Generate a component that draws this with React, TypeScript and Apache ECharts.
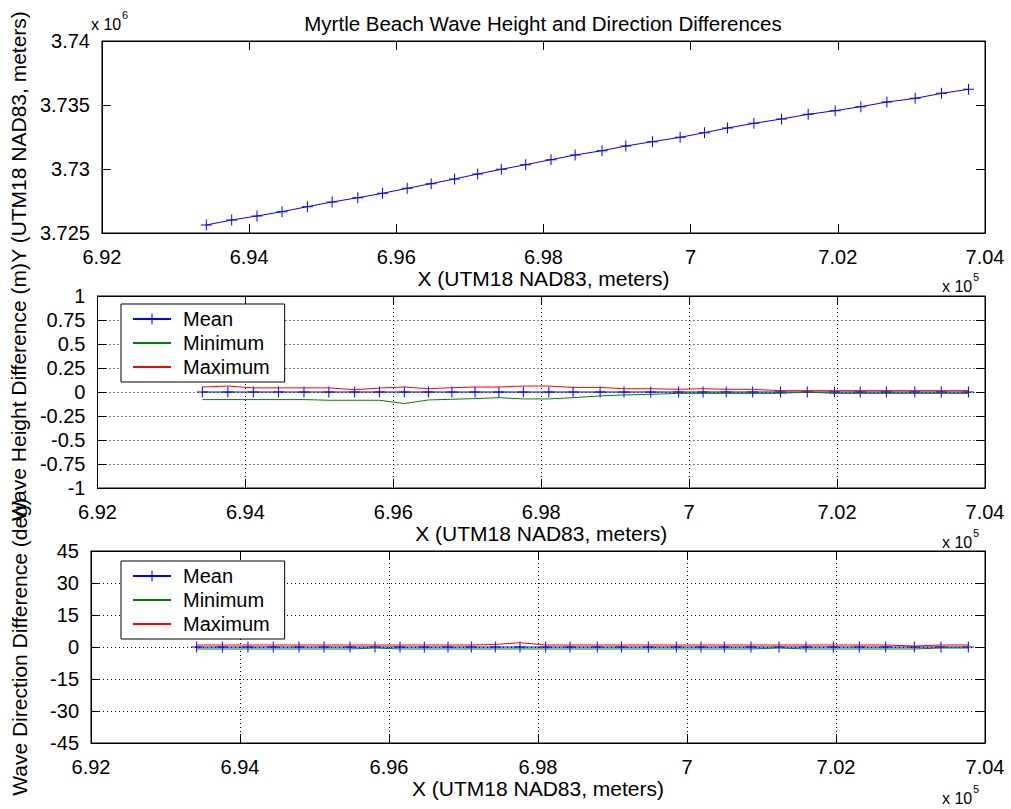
import React, { useEffect, useRef } from "react";
import * as echarts from "echarts";

const titleText = "Myrtle Beach Wave Height and Direction Differences";
const xLabel = "X (UTM18 NAD83, meters)";
const yLabelTop = "Y (UTM18 NAD83, meters)";
const yLabelMid = "Wave Height Difference (m)";
const yLabelBot = "Wave Direction Difference (deg)";
const legendNames = ["Mean", "Minimum", "Maximum"];

const xTickLabels = ["6.92", "6.94", "6.96", "6.98", "7", "7.02", "7.04"];
const yTopTickLabels = ["3.725", "3.73", "3.735", "3.74"];
const yMidTickLabels = ["-1", "-0.75", "-0.5", "-0.25", "0", "0.25", "0.5", "0.75", "1"];
const yBotTickLabels = ["-45", "-30", "-15", "0", "15", "30", "45"];

// positions along shoreline (meters)
const xPos = [693418, 693763, 694107, 694447, 694792, 695128, 695477, 695812, 696148, 696474, 696792, 697105, 697427, 697758, 698103, 698430, 698796, 699119, 699481, 699857, 700188, 700501, 700859, 701235, 701597, 701964, 702313, 702667, 703051, 703409, 703776];
const yPos = [3725625, 3726016, 3726328, 3726667, 3727057, 3727422, 3727760, 3728099, 3728490, 3728854, 3729219, 3729609, 3729974, 3730339, 3730729, 3731094, 3731432, 3731797, 3732135, 3732474, 3732839, 3733203, 3733568, 3733906, 3734271, 3734557, 3734870, 3735234, 3735521, 3735911, 3736224];

// wave height differences (m)
const heightMean = [0, 0, 0, 0, 0, 0, 0, 0, 0, 0, 0, 0, 0, 0, 0, 0, 0, 0, 0, 0, 0, 0, 0, 0, 0, 0, 0, 0, 0, 0, 0];
const heightMin = [-0.079, -0.079, -0.079, -0.079, -0.079, -0.086, -0.086, -0.086, -0.12, -0.083, -0.076, -0.069, -0.059, -0.072, -0.072, -0.059, -0.041, -0.031, -0.024, -0.014, -0.014, -0.014, -0.014, -0.014, 0, -0.014, -0.014, -0.014, -0.014, -0.014, -0.014];
const heightMax = [0.052, 0.062, 0.043, 0.043, 0.043, 0.043, 0.024, 0.041, 0.052, 0.034, 0.045, 0.052, 0.052, 0.062, 0.062, 0.048, 0.048, 0.034, 0.034, 0.028, 0.034, 0.028, 0.028, 0.014, 0.014, 0.014, 0.014, 0.014, 0.014, 0.014, 0.014];

// wave direction differences (deg)
const dirMean = [0, 0, 0, 0, 0, 0, 0, 0, 0, 0, 0, 0, 0, 0, 0, 0, 0, 0, 0, 0, 0, 0, 0, 0, 0, 0, 0, 0, 0, 0, 0];
const dirMin = [-0.93, -0.93, -0.93, -0.93, -0.93, -0.93, -0.93, -0.47, -0.93, -0.93, -0.93, -0.93, -0.93, -0.93, -0.93, -0.93, -0.93, -0.93, -0.93, -0.93, -0.93, -0.93, -0.93, -0.47, -0.93, -0.93, -0.93, -0.93, -0.93, -0.47, -0.47];
const dirMax = [0.93, 0.93, 0.93, 0.93, 0.93, 0.93, 0.93, 0.93, 0.93, 0.93, 0.93, 0.93, 1.2, 2.0, 0.93, 0.93, 0.93, 0.93, 0.93, 0.93, 0.93, 0.93, 0.93, 0.93, 0.93, 0.93, 0.93, 0.93, 0.47, 0.93, 0.93];

const FONT = '"Liberation Sans", Arial, Helvetica, sans-serif';
const PLUS = "path://M5,0 L6,0 L6,5 L11,5 L11,6 L6,6 L6,11 L5,11 L5,6 L0,6 L0,5 L5,5 Z";
const BLUE = "#0000ff";
const GREEN = "#008000";
const RED = "#ff0000";

const X_MIN = 692000, X_MAX = 704000, X_STEP = 2000;

function makeXAxes(gridIndex: number, grid: boolean) {
  const base = {
    type: "value" as const,
    gridIndex,
    min: X_MIN,
    max: X_MAX,
    interval: X_STEP,
  };
  return [
    {
      ...base,
      position: "bottom",
      axisLine: { show: true, onZero: false, lineStyle: { color: "#000", width: 1 } },
      axisTick: { show: true, inside: true, length: 9, lineStyle: { color: "#000" } },
      axisLabel: {
        color: "#000",
        fontSize: 20,
        fontFamily: FONT,
        margin: 14,
        formatter: (v: number) => xTickLabels[Math.round((v - X_MIN) / X_STEP)] ?? "",
      },
      splitLine: { show: grid, lineStyle: { color: "#000", width: 1, type: [1, 3] } },
      name: xLabel,
      nameLocation: "middle",
      nameGap: 32,
      nameTextStyle: { color: "#000", fontSize: 21, fontFamily: FONT },
    },
    {
      ...base,
      position: "top",
      axisLine: { show: true, onZero: false, lineStyle: { color: "#000", width: 1 } },
      axisTick: { show: true, inside: true, length: 9, lineStyle: { color: "#000" } },
      axisLabel: { show: false },
      splitLine: { show: false },
    },
  ];
}

function makeYAxes(gridIndex: number, min: number, max: number, step: number, labels: string[], name: string, grid: boolean) {
  const base = { type: "value" as const, gridIndex, min, max, interval: step };
  return [
    {
      ...base,
      position: "left",
      axisLine: { show: true, onZero: false, lineStyle: { color: "#000", width: 1 } },
      axisTick: { show: true, inside: true, length: 9, lineStyle: { color: "#000" } },
      axisLabel: {
        color: "#000",
        fontSize: 20,
        fontFamily: FONT,
        margin: 12,
        formatter: (v: number) => labels[Math.round((v - min) / step)] ?? "",
      },
      splitLine: { show: grid, lineStyle: { color: "#000", width: 1, type: [1, 3] } },
      name,
      nameLocation: "middle",
      nameGap: 61,
      nameTextStyle: { color: "#000", fontSize: 21, fontFamily: FONT },
    },
    {
      ...base,
      position: "right",
      axisLine: { show: true, onZero: false, lineStyle: { color: "#000", width: 1 } },
      axisTick: { show: true, inside: true, length: 9, lineStyle: { color: "#000" } },
      axisLabel: { show: false },
      splitLine: { show: false },
    },
  ];
}

function pairs(xs: number[], ys: number[]) {
  return xs.map((x, i) => [x, ys[i]]);
}

function diffSeries(axisIndex: number, mean: number[], mn: number[], mx: number[]) {
  return [
    {
      name: "Mean",
      type: "line",
      xAxisIndex: axisIndex,
      yAxisIndex: axisIndex,
      data: pairs(xPos, mean),
      symbol: PLUS,
      symbolSize: 11,
      showAllSymbol: true,
      lineStyle: { color: BLUE, width: 1 },
      itemStyle: { color: BLUE },
      z: 2,
    },
    {
      name: "Minimum",
      type: "line",
      xAxisIndex: axisIndex,
      yAxisIndex: axisIndex,
      data: pairs(xPos, mn),
      symbol: "none",
      lineStyle: { color: GREEN, width: 1 },
      itemStyle: { color: GREEN },
      z: 3,
    },
    {
      name: "Maximum",
      type: "line",
      xAxisIndex: axisIndex,
      yAxisIndex: axisIndex,
      data: pairs(xPos, mx),
      symbol: "none",
      lineStyle: { color: RED, width: 1 },
      itemStyle: { color: RED },
      z: 4,
    },
  ];
}

function legendAt(top: number) {
  return {
    data: [
      { name: legendNames[0] },
      { name: legendNames[1], itemStyle: { opacity: 0 } },
      { name: legendNames[2], itemStyle: { opacity: 0 } },
    ],
    orient: "vertical",
    left: 121,
    top,
    padding: [5, 15, 5, 11],
    itemWidth: 38,
    itemHeight: 14,
    itemGap: 4,
    borderColor: "#000",
    borderWidth: 1,
    backgroundColor: "#fff",
    selectedMode: false,
    textStyle: { color: "#000", fontSize: 20, fontFamily: FONT, lineHeight: 20, padding: [0, 0, 0, 7] },
  };
}

function expLabel(left: number, top: number, exp: string) {
  return [
    { type: "text", left, top, style: { text: "x 10", fill: "#000", fontSize: 16, fontFamily: FONT } },
    { type: "text", left: left + 31, top: top - 7, style: { text: exp, fill: "#000", fontSize: 11, fontFamily: FONT } },
  ];
}

export default function App() {
  const ref = useRef<HTMLDivElement>(null);

  useEffect(() => {
    if (!ref.current) return;
    const chart = echarts.init(ref.current, null, { renderer: "svg" });
    const gridBase = { left: 91, right: 26, height: 192, show: true, borderColor: "#000", borderWidth: 1, backgroundColor: "transparent", containLabel: false };
    const option = {
      animation: false,
      backgroundColor: "#fff",
      textStyle: { fontFamily: FONT },
      title: {
        text: titleText,
        left: 538,
        top: 8,
        textAlign: "center",
        textStyle: { color: "#000", fontSize: 20.5, fontWeight: "normal", fontFamily: FONT },
      },
      grid: [
        { ...gridBase, top: 41 },
        { ...gridBase, top: 296 },
        { ...gridBase, top: 551 },
      ],
      xAxis: [...makeXAxes(0, false), ...makeXAxes(1, true), ...makeXAxes(2, true)],
      yAxis: [
        ...makeYAxes(0, 3725000, 3740000, 5000, yTopTickLabels, yLabelTop, false),
        ...makeYAxes(1, -1, 1, 0.25, yMidTickLabels, yLabelMid, true),
        ...makeYAxes(2, -45, 45, 15, yBotTickLabels, yLabelBot, true),
      ],
      legend: [legendAt(304), legendAt(561)],
      graphic: [
        ...expLabel(91, 16, "6"),
        ...expLabel(942, 278, "5"),
        ...expLabel(942, 534, "5"),
        ...expLabel(942, 790, "5"),
      ],
      series: [
        {
          name: "Shoreline",
          type: "line",
          xAxisIndex: 0,
          yAxisIndex: 0,
          data: pairs(xPos, yPos),
          symbol: PLUS,
          symbolSize: 11,
          showAllSymbol: true,
          lineStyle: { color: BLUE, width: 1 },
          itemStyle: { color: BLUE },
        },
        ...diffSeries(2, heightMean, heightMin, heightMax),
        ...diffSeries(4, dirMean, dirMin, dirMax),
      ],
    };
    chart.setOption(option as any);
    return () => chart.dispose();
  }, []);

  return (
    <div
      ref={ref}
      style={{ position: "absolute", left: 0, top: 0, width: 1011, height: 809, background: "#fff" }}
    />
  );
}
